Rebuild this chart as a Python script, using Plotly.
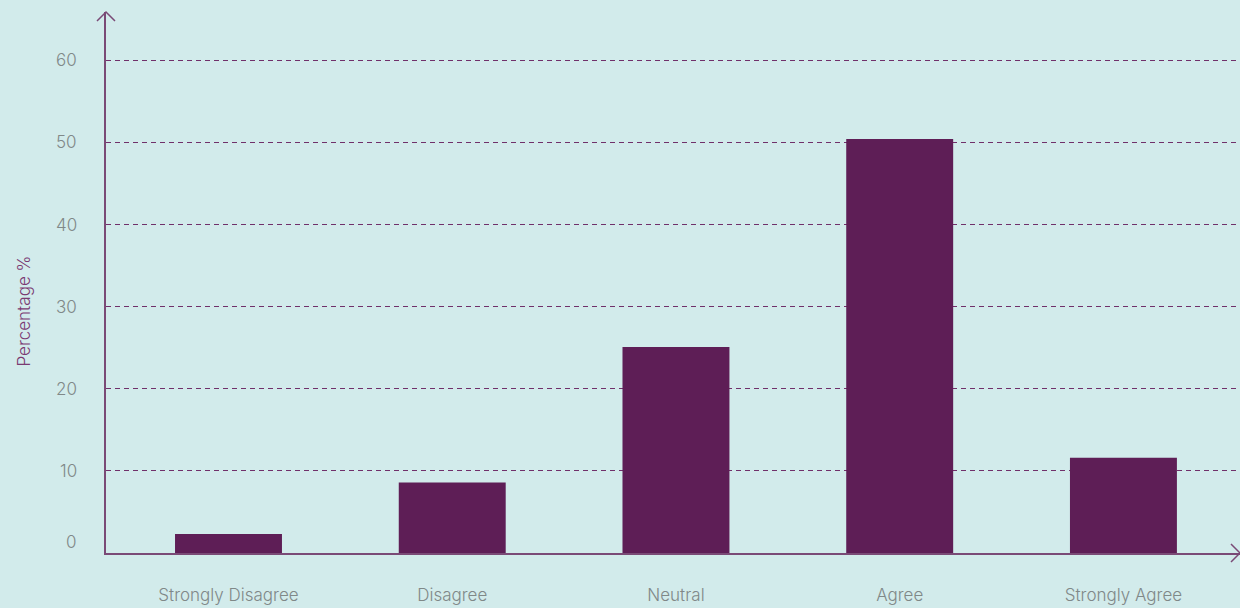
import plotly.graph_objects as go

categories = ["Strongly Disagree", "Disagree", "Neutral", "Agree", "Strongly Agree"]
percentages = [2.3, 8.6, 25.1, 50.4, 11.6]
y_ticks = [0, 10, 20, 30, 40, 50, 60]

BG = "#d2ebeb"
BAR = "#5e1e56"
AXIS = "#7a4a76"
GRID = "#70306a"
TXT = "#808888"
FONT = "Inter"

fig = go.Figure()
fig.add_trace(go.Bar(
    x=list(range(len(categories))), y=percentages,
    marker=dict(color=BAR, line=dict(width=0)),
    width=0.478, hoverinfo="skip",
))

fig.update_layout(
    width=1240, height=608,
    margin=dict(l=106, r=0, t=12, b=55),
    paper_bgcolor=BG, plot_bgcolor=BG,
    showlegend=False,
    font=dict(family=FONT, size=16, color=TXT, weight=300),
)
fig.update_xaxes(
    range=[-0.5475, 4.521],
    tickmode="array", tickvals=list(range(len(categories))), ticktext=categories,
    showgrid=False, zeroline=False,
    showline=True, linecolor=AXIS, linewidth=1.5,
    ticks="", ticklabelstandoff=26,
    tickfont=dict(family=FONT, size=17, color=TXT, weight=300),
)
fig.update_yaxes(
    range=[0, 65.88],
    tickmode="array", tickvals=y_ticks[1:], showticklabels=False,
    showgrid=True, gridcolor=GRID, gridwidth=1, griddash="5px,4px",
    zeroline=False,
    showline=True, linecolor=AXIS, linewidth=1.5,
    ticks="",
)

for v in y_ticks:
    fig.add_annotation(
        x=0, xref="paper", xanchor="right", xshift=-27,
        y=v, yref="y", yanchor="middle", yshift=(11 if v == 0 else 0),
        text=str(v), showarrow=False,
        font=dict(family=FONT, size=17, color=TXT, weight=300),
    )

fig.add_annotation(
    x=0, xref="paper", xshift=-83, xanchor="center",
    y=0.5, yref="paper", yshift=-29, yanchor="middle",
    text="Percentage %", textangle=-90, showarrow=False,
    font=dict(family=FONT, size=17, color="#7a3a72", weight=300),
)

# axis arrowheads
fig.add_shape(type="path", xref="paper", xsizemode="pixel", xanchor=0,
              yref="paper", ysizemode="pixel", yanchor=1,
              path="M-9,-9 L0,0 L9,-9", line=dict(color=AXIS, width=1.5))
fig.add_shape(type="path", xref="paper", xsizemode="pixel", xanchor=1,
              yref="paper", ysizemode="pixel", yanchor=0,
              path="M-9,9 L0,0 L-9,-9", line=dict(color=AXIS, width=1.5))

fig.write_html("out.html", config={"displayModeBar": False},
               post_script="document.body.style.margin='0';document.body.style.overflow='hidden';")
